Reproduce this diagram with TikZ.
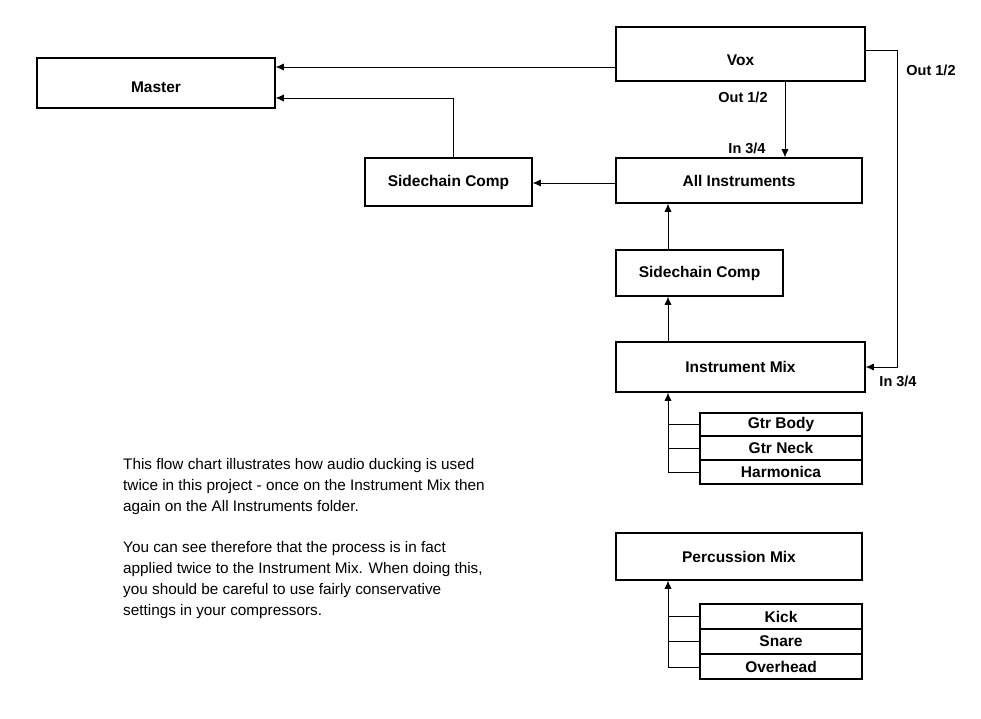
\documentclass[tikz,border=0pt]{standalone}
\usepackage{fontspec}
\setmainfont{Liberation Sans}
\usetikzlibrary{arrows.meta}
\begin{document}
\begin{tikzpicture}[x=1pt,y=-1pt,
 box/.style={draw,line width=1.6pt,inner sep=0pt},
 sbox/.style={draw,line width=1.6pt,inner sep=0pt},
 ln/.style={line width=0.6pt},
 arr/.style={ln,-{Latex[length=8pt,width=7pt]}},
 txt/.style={font=\bfseries\fontsize{15.5}{17}\selectfont,inner sep=0pt},
 lbl/.style={font=\bfseries\fontsize{14.5}{16}\selectfont,inner sep=0pt}]
\useasboundingbox[fill=white] (0,0) rectangle (981,719);
\newcommand{\bx}[6]{\node[#6,minimum width=#4-#2,minimum height=#5-#3] (#1) at ({(#2+#4)/2},{(#3+#5)/2}) {};}
\bx{master}{37}{58}{275}{108}{box}
\bx{vox}{616}{27}{865}{81}{box}
\bx{allins}{616}{158}{862}{203}{box}
\bx{scl}{365}{158}{532}{206}{box}
\bx{scm}{616}{250}{783}{296}{box}
\bx{imix}{616}{342}{865}{392}{box}
\bx{gb}{700}{413}{862}{436}{sbox}
\bx{gn}{700}{436}{862}{460}{sbox}
\bx{hm}{700}{460}{862}{484}{sbox}
\bx{pmix}{616}{533}{862}{580}{box}
\bx{kick}{700}{604}{862}{629}{sbox}
\bx{snare}{700}{629}{862}{654}{sbox}
\bx{over}{700}{654}{862}{679}{sbox}
\node[txt] at ([yshift=-4]master) {Master};
\node[txt] at ([yshift=-6]vox) {Vox};
\node[txt] at (allins) {All Instruments};
\node[txt] at (scl) {Sidechain Comp};
\node[txt] at (scm) {Sidechain Comp};
\node[txt] at (imix) {Instrument Mix};
\node[txt] at (pmix) {Percussion Mix};
\node[txt] at (gb) {Gtr Body};
\node[txt] at (gn) {Gtr Neck};
\node[txt] at (hm) {Harmonica};
\node[txt] at (kick) {Kick};
\node[txt] at (snare) {Snare};
\node[txt] at (over) {Overhead};
% arrows
\draw[arr] (vox.west|-0,67) -- (master.east|-0,67);
\draw[arr] (scl.north-|453,0) -- (453,98) -- (master.east|-0,98);
\draw[arr] (allins.west|-0,183) -- (scl.east|-0,183);
\draw[arr] (vox.south-|785,0) -- (allins.north-|785,0);
\node[lbl] at (743,97) {Out 1/2};
\node[lbl] at (747,148) {In 3/4};
\draw[arr] (scm.north-|668,0) -- (allins.south-|668,0);
\draw[arr] (imix.north-|668,0) -- (scm.south-|668,0);
\draw[arr] (vox.east|-0,50) -- (897,50) -- (897,367) -- (imix.east|-0,367);
\node[lbl] at (931,70) {Out 1/2};
\node[lbl] at (898,381) {In 3/4};
\draw[arr] (668,472) -- (imix.south-|668,0);
\foreach \n/\y in {gb/424,gn/448,hm/472} \draw[ln] (668,\y) -- (\n.west|-0,\y);
\draw[arr] (668,667) -- (pmix.south-|668,0);
\foreach \n/\y in {kick/616,snare/641,over/667} \draw[ln] (668,\y) -- (\n.west|-0,\y);
\node[anchor=north west,align=left,inner sep=0pt,font=\fontsize{15.3}{21}\selectfont] (t1) at (123,458)
{This flow chart illustrates how audio ducking is used\\twice in this project - once on the Instrument Mix then\\again on the All Instruments folder.};
\node[anchor=north west,align=left,inner sep=0pt,font=\fontsize{15.3}{21}\selectfont] (t2) at (123,541)
{You can see therefore that the process is in fact\\applied twice to the Instrument Mix. When doing this,\\you should be careful to use fairly conservative\\settings in your compressors.};
\end{tikzpicture}
\end{document}
